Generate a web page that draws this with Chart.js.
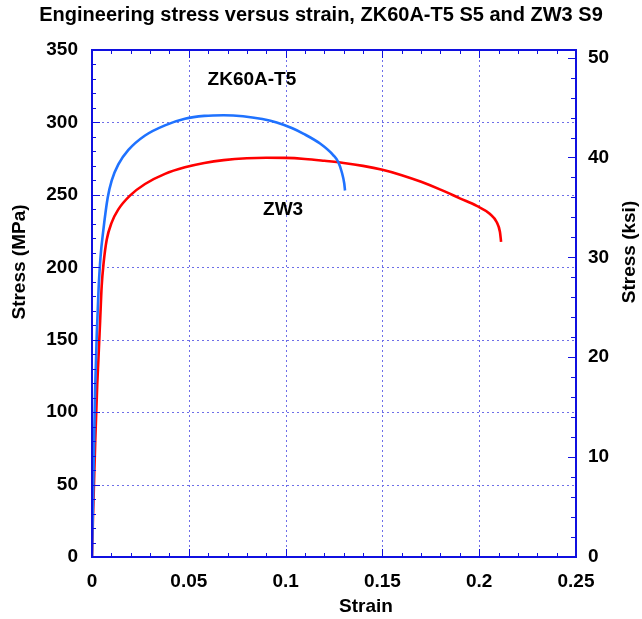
<!DOCTYPE html>
<html><head><meta charset="utf-8">
<script src="https://cdn.jsdelivr.net/npm/chart.js@4.4.1/dist/chart.umd.min.js"></script>
<style>html,body{margin:0;padding:0;background:#fff}#wrap{width:642px;height:619px}</style>
</head><body><div id="wrap"><canvas id="c" width="642" height="619"></canvas></div>
<script>
const chartTitle = 'Engineering stress versus strain, ZK60A-T5 S5 and ZW3 S9';
const seriesNames = ['ZK60A-T5', 'ZW3'];
const strainZK = [0, 0.0008, 0.0016, 0.0025, 0.0034, 0.0044, 0.0058, 0.0081, 0.0102, 0.0136, 0.0188, 0.0274, 0.0377, 0.048, 0.058, 0.068, 0.078, 0.088, 0.0954, 0.1035, 0.1091, 0.1178, 0.1247, 0.1272, 0.129, 0.1303, 0.1307];
const stressZK = [0, 60, 115, 155, 185, 207, 225, 248, 260, 271, 281, 291, 298, 302.5, 304.5, 305, 304.3, 302.3, 300, 296, 292.3, 285.4, 277.3, 272.7, 265.8, 257.8, 253];
const strainZW = [0, 0.0005, 0.0017, 0.0027, 0.0033, 0.0042, 0.005, 0.006, 0.0076, 0.0102, 0.0136, 0.0196, 0.0274, 0.0377, 0.048, 0.058, 0.068, 0.08, 0.09, 0.1, 0.11, 0.12, 0.13, 0.14, 0.15, 0.16, 0.17, 0.18, 0.19, 0.1987, 0.2056, 0.209, 0.2107, 0.2113];
const stressZW = [0, 27, 81, 119, 136, 163, 187, 203, 219, 231, 240, 249.5, 257.5, 264.5, 269, 272, 274, 275.3, 275.6, 275.5, 274.8, 273.5, 272, 270, 267.3, 263.6, 259, 253.6, 247.6, 242.4, 236.8, 231.3, 224.5, 217.6];
const xTicks = [0, 0.05, 0.1, 0.15, 0.2, 0.25];
const xTickLabels = ['0', '0.05', '0.1', '0.15', '0.2', '0.25'];
const yTicks = [0, 50, 100, 150, 200, 250, 300, 350];
const yTickLabels = ['0', '50', '100', '150', '200', '250', '300', '350'];
const ksiTicks = [0, 10, 20, 30, 40, 50];
const ksiTickLabels = ['0', '10', '20', '30', '40', '50'];
const labelStrain = [0.0826, 0.0987];
const labelStress = [329.7, 239.6];
const xTitle = 'Strain';
const yTitle = 'Stress (MPa)';
const y2Title = 'Stress (ksi)';
const MPA_PER_KSI = 6.894757;

const FONT = '"Liberation Sans", Arial, sans-serif';
const frameColor = '#1010e0';
const gridColor = '#6e6ee8';

const toPts = (xs, ys) => xs.map((x, i) => ({x: x, y: ys[i]}));

const decor = {
  id: 'decor',
  beforeDatasetsDraw(chart) {
    const ctx = chart.ctx, a = chart.chartArea;
    const xs = chart.scales.x, ys = chart.scales.y;
    ctx.save();
    ctx.strokeStyle = gridColor; ctx.lineWidth = 1; ctx.setLineDash([2, 3]);
    xTicks.forEach(v => {
      if (v <= xs.min || v >= xs.max) return;
      const px = Math.round(xs.getPixelForValue(v)) + 0.5;
      ctx.beginPath(); ctx.moveTo(px, a.top); ctx.lineTo(px, a.bottom); ctx.stroke();
    });
    yTicks.forEach(v => {
      if (v <= ys.min || v >= ys.max) return;
      const py = Math.round(ys.getPixelForValue(v)) + 0.5;
      ctx.beginPath(); ctx.moveTo(a.left, py); ctx.lineTo(a.right, py); ctx.stroke();
    });
    ctx.restore();
  },
  afterDatasetsDraw(chart) {
    const ctx = chart.ctx, a = chart.chartArea;
    const xs = chart.scales.x, ys = chart.scales.y, y2 = chart.scales.y2;
    ctx.save();
    ctx.setLineDash([]);
    ctx.strokeStyle = frameColor; ctx.lineWidth = 2;
    ctx.strokeRect(a.left, a.top, a.right - a.left, a.bottom - a.top);
    ctx.lineWidth = 1;
    for (let k = 0; k <= 25; k++) {
      const v = k / 100;
      const len = (k % 5 === 0) ? 8 : 4;
      const px = Math.round(xs.getPixelForValue(v)) + 0.5;
      ctx.beginPath();
      ctx.moveTo(px, a.bottom); ctx.lineTo(px, a.bottom - len);
      ctx.moveTo(px, a.top); ctx.lineTo(px, a.top + len);
      ctx.stroke();
    }
    for (let k = 0; k <= 35; k++) {
      const v = k * 10;
      const len = (k % 5 === 0) ? 8 : 4;
      const py = Math.round(ys.getPixelForValue(v)) + 0.5;
      ctx.beginPath(); ctx.moveTo(a.left, py); ctx.lineTo(a.left + len, py); ctx.stroke();
    }
    for (let k = 0; k <= 25; k++) {
      const v = k * 2;
      const len = (k % 5 === 0) ? 8 : 5;
      const py = Math.round(y2.getPixelForValue(v)) + 0.5;
      ctx.beginPath(); ctx.moveTo(a.right, py); ctx.lineTo(a.right - len, py); ctx.stroke();
    }
    ctx.fillStyle = '#000';
    ctx.font = 'bold 19px ' + FONT;
    ctx.textAlign = 'center'; ctx.textBaseline = 'middle';
    seriesNames.forEach((n, i) => {
      ctx.fillText(n, xs.getPixelForValue(labelStrain[i]), ys.getPixelForValue(labelStress[i]));
    });
    ctx.font = 'bold 19px ' + FONT;
    ctx.fillText(xTitle, 366, 607);
    ctx.save(); ctx.translate(20, 262); ctx.rotate(-Math.PI / 2); ctx.fillText(yTitle, 0, 0); ctx.restore();
    ctx.save(); ctx.translate(630, 252); ctx.rotate(-Math.PI / 2); ctx.fillText(y2Title, 0, 0); ctx.restore();
    ctx.restore();
  }
};

const tickFont = {family: FONT, size: 19, weight: 'bold'};

new Chart(document.getElementById('c'), {
  type: 'scatter',
  data: {
    datasets: [
      {label: seriesNames[0], data: toPts(strainZK, stressZK), showLine: true, borderColor: '#1f72ff', borderWidth: 2.6, pointRadius: 0, cubicInterpolationMode: 'monotone', yAxisID: 'y'},
      {label: seriesNames[1], data: toPts(strainZW, stressZW), showLine: true, borderColor: '#ff0000', borderWidth: 2.6, pointRadius: 0, cubicInterpolationMode: 'monotone', yAxisID: 'y'}
    ]
  },
  options: {
    responsive: false, animation: false, devicePixelRatio: 1,
    layout: {padding: 0},
    plugins: {
      legend: {display: false}, tooltip: {enabled: false},
      title: {display: true, text: chartTitle, color: '#000', font: {family: FONT, size: 20, weight: 'bold', lineHeight: 1.2}, padding: {top: 3, bottom: 23}}
    },
    scales: {
      x: {
        type: 'linear', position: 'bottom', min: 0, max: 0.25,
        grid: {display: false, drawTicks: false}, border: {display: false},
        afterBuildTicks: s => { s.ticks = xTicks.map(v => ({value: v})); },
        ticks: {color: '#000', font: tickFont, padding: 13, maxRotation: 0, autoSkip: false, callback: (v, i) => xTickLabels[i]},
        afterFit: s => { s.height = 62; }
      },
      y: {
        type: 'linear', position: 'left', min: 0, max: 350,
        grid: {display: false, drawTicks: false}, border: {display: false},
        afterBuildTicks: s => { s.ticks = yTicks.map(v => ({value: v})); },
        ticks: {color: '#000', font: tickFont, padding: 14, autoSkip: false, callback: (v, i) => yTickLabels[i]},
        afterFit: s => { s.width = 92; }
      },
      y2: {
        type: 'linear', position: 'right', min: 0, max: 350 / MPA_PER_KSI,
        grid: {display: false, drawTicks: false}, border: {display: false},
        afterBuildTicks: s => { s.ticks = ksiTicks.map(v => ({value: v})); },
        ticks: {color: '#000', font: tickFont, padding: 12, autoSkip: false, callback: (v, i) => ksiTickLabels[i]},
        afterFit: s => { s.width = 66; }
      }
    }
  },
  plugins: [decor]
});
</script>
</body></html>
